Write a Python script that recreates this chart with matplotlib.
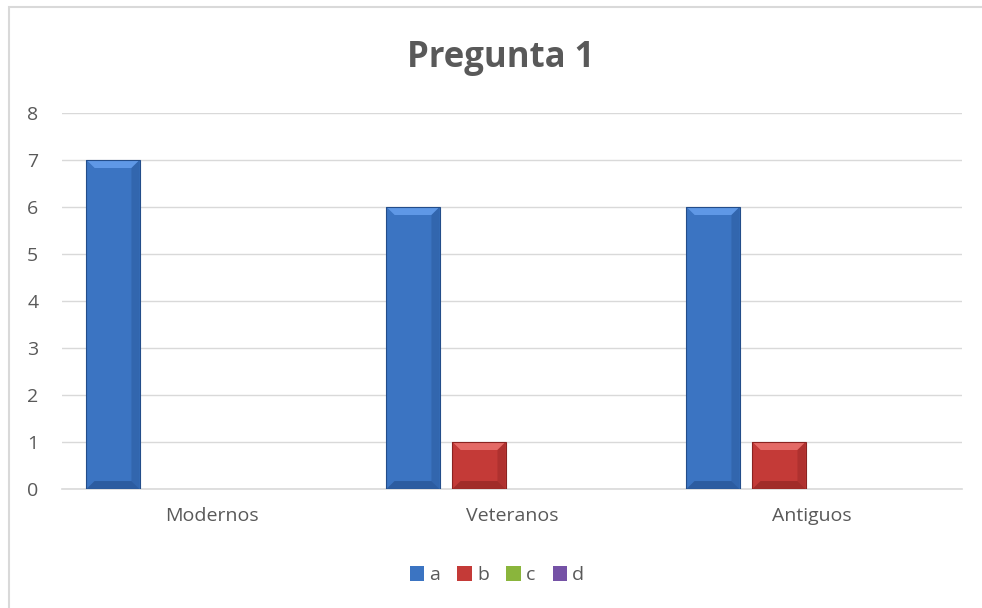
import matplotlib
matplotlib.use("Agg")
import matplotlib.pyplot as plt
from matplotlib.patches import Polygon, Rectangle
import numpy as np

categories = ["Modernos", "Veteranos", "Antiguos"]
series_names = ["a", "b", "c", "d"]
values_a = [7, 6, 6]
values_b = [0, 1, 1]
values_c = [0, 0, 0]
values_d = [0, 0, 0]
yticks = [0, 1, 2, 3, 4, 5, 6, 7, 8]

series_values = [values_a, values_b, values_c, values_d]
# face, light (top bevel), dark (bottom/edge)
colors = [
    ("#3b74c2", "#5f98e6", "#234d8a"),
    ("#c43a37", "#e46a66", "#8a2321"),
    ("#8ab53c", "#b5dc6a", "#5e7f22"),
    ("#7552a6", "#9b7bcc", "#4e3573"),
]

plt.rcParams['font.family'] = ['Open Sans', 'DejaVu Sans']
text_color = "#595959"

fig = plt.figure(figsize=(9.82, 6.08), dpi=100, facecolor="white")
ax = fig.add_axes([0.0631, 0.1957, 0.9165, 0.6184])

# chart border
fig.patches.append(Rectangle((9 / 982, -0.05), 1.0, 1.05 - 7 / 608,
                             transform=fig.transFigure, fill=False,
                             edgecolor="#d9d9d9", linewidth=1.5))

x = np.arange(len(categories))
width = 0.177
step = 0.22
bevel_x = 0.027
bevel_y = 0.17

for j, (name, vals) in enumerate(zip(series_names, series_values)):
    face, light, dark = colors[j]
    pos = x + (j - 1.5) * step
    bars = ax.bar(pos, vals, width=width, color=face, edgecolor=dark,
                  linewidth=0, label=name, zorder=3)
    for b in bars:
        h = b.get_height()
        if h <= 0:
            continue
        x0 = b.get_x()
        x1 = x0 + b.get_width()
        by = min(bevel_y, h / 2)
        # top bevel
        ax.add_patch(Polygon([(x0, h), (x1, h), (x1 - bevel_x, h - by), (x0 + bevel_x, h - by)],
                             closed=True, facecolor=light, edgecolor="none", zorder=4))
        # side bevels
        ax.add_patch(Polygon([(x0, h), (x0 + bevel_x, h - by), (x0 + bevel_x, by), (x0, 0)],
                             closed=True, facecolor=face, edgecolor="none", alpha=0.6, zorder=4))
        ax.add_patch(Polygon([(x1, h), (x1 - bevel_x, h - by), (x1 - bevel_x, by), (x1, 0)],
                             closed=True, facecolor=dark, edgecolor="none", alpha=0.35, zorder=4))
        # bottom bevel
        ax.add_patch(Polygon([(x0, 0), (x1, 0), (x1 - bevel_x, by), (x0 + bevel_x, by)],
                             closed=True, facecolor=dark, edgecolor="none", alpha=0.6, zorder=4))
        ax.add_patch(Rectangle((x0, 0), x1 - x0, h, fill=False, edgecolor=dark,
                               linewidth=0.8, zorder=5))

ax.set_xlim(-0.5, len(categories) - 0.5)
ax.set_ylim(0, 8)
ax.set_yticks(yticks)
ax.set_xticks(x)
ax.set_xticklabels(categories)
ax.tick_params(axis="both", length=0, labelsize=14, colors=text_color)
ax.tick_params(axis="x", pad=13)
ax.tick_params(axis="y", pad=17)
ax.grid(axis="y", color="#d9d9d9", linewidth=1, zorder=0)
for s in ["top", "right", "left"]:
    ax.spines[s].set_visible(False)
ax.spines["bottom"].set_color("#d9d9d9")
ax.spines["bottom"].set_linewidth(1.2)

fig.text(0.51, 0.905, "Pregunta 1", ha="center", va="center", fontsize=25,
         fontweight="bold", color=text_color)

leg = fig.legend(loc="center", bbox_to_anchor=(0.506, 0.054), ncol=4, frameon=False,
                 fontsize=14, handlelength=0.75, handleheight=0.75, handletextpad=0.25,
                 columnspacing=0.9)
for t in leg.get_texts():
    t.set_color(text_color)

fig.savefig("out.png", dpi=100, facecolor="white")
